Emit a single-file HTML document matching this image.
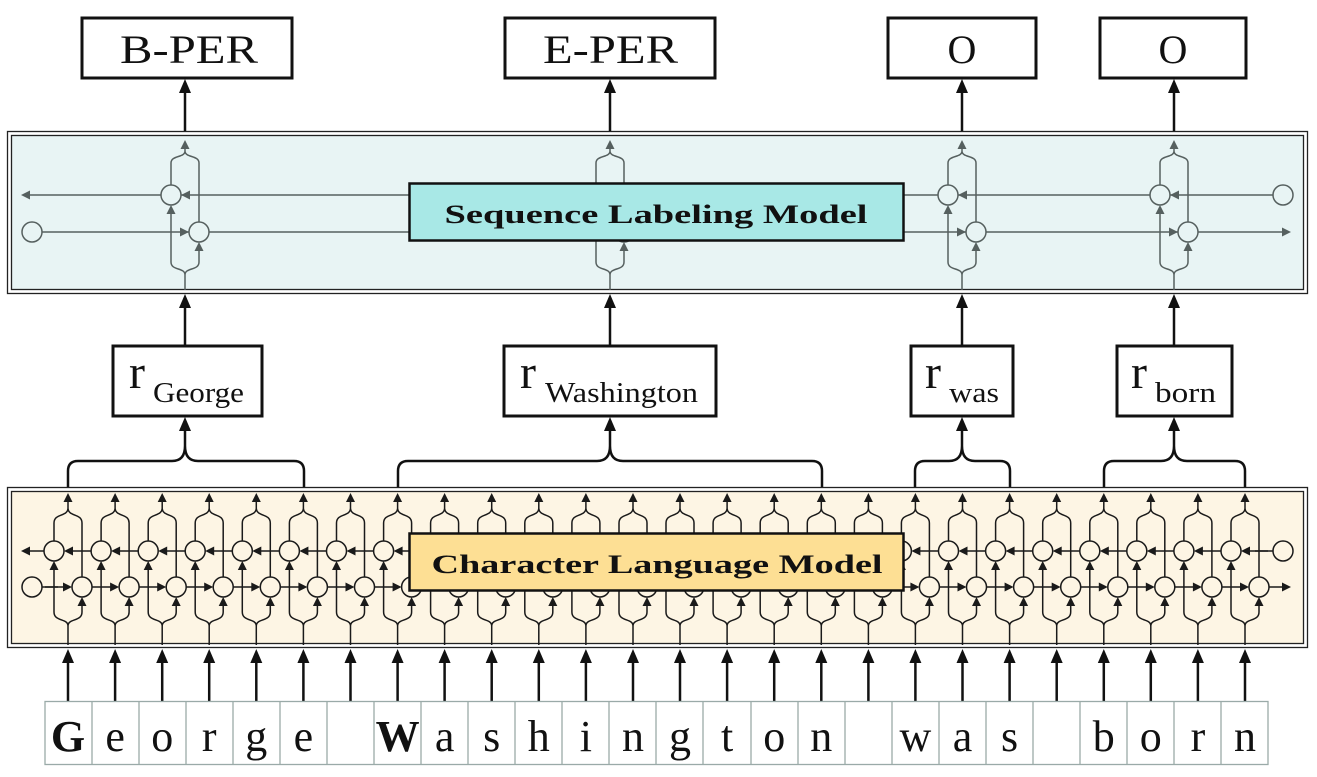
<!DOCTYPE html>
<html><head><meta charset="utf-8"><style>
html,body{margin:0;padding:0;background:#fff;}
svg{display:block;}
text{font-family:"Liberation Serif",serif;}
</style></head><body>
<svg width="1317" height="777" viewBox="0 0 1317 777" xmlns="http://www.w3.org/2000/svg">
<defs>
<g id="cc" fill="none" stroke="#1a1a1a" stroke-width="1.5">
  <path d="M0,645 V626 C0,618 -14,622 -14,612 V565 M0,626 C0,618 14,622 14,612 V601"/>
  <path d="M-14,541 V523 C-14,513 0,517 0,508 V500 M14,577 V523 C14,513 0,517 0,508"/>
  <path d="M-23,587 H-2 M23,551 H2"/>
  <circle cx="-14" cy="551" r="10" fill="#fdf5e4"/>
  <circle cx="14" cy="587" r="10" fill="#fdf5e4"/>
  <g fill="#1a1a1a" stroke="none">
    <polygon points="-14,561 -18.5,570 -9.5,570"/>
    <polygon points="14,597 9.5,606 18.5,606"/>
    <polygon points="0,493 -4.5,502 4.5,502"/>
    <polygon points="4,587 -5,582.5 -5,591.5"/>
    <polygon points="-4,551 5,546.5 5,555.5"/>
  </g>
</g>
<g id="sc" fill="none" stroke="#56605f" stroke-width="1.5">
  <path d="M0,290 V275 C0,267 -14,271 -14,262 V213 M0,275 C0,267 14,271 14,262 V250"/>
  <path d="M-14,185 V163 C-14,155 0,158 0,151 V148 M14,222 V163 C14,155 0,158 0,151"/>
  <circle cx="-14" cy="195" r="10" fill="#e8f4f4"/>
  <circle cx="14" cy="232" r="10" fill="#e8f4f4"/>
  <g fill="#56605f" stroke="none">
    <polygon points="-14,205 -18.5,214 -9.5,214"/>
    <polygon points="14,242 9.5,251 18.5,251"/>
    <polygon points="0,140 -4.5,149 4.5,149"/>
    <polygon points="4,232 -5,227.5 -5,236.5"/>
    <polygon points="-4,195 5,190.5 5,199.5"/>
  </g>
</g>
<g id="up"><line x1="0" y1="0" x2="0" y2="-40" stroke="#111" stroke-width="2.5"/><polygon points="0,-52 -6,-38 6,-38" fill="#111"/></g>
</defs>

<rect x="7.5" y="131.5" width="1300" height="162" fill="none" stroke="#222" stroke-width="1.3"/>
<rect x="11.5" y="135.5" width="1292" height="154" fill="#e8f4f4" stroke="#222" stroke-width="1.3"/>
<g stroke="#56605f" stroke-width="1.5" fill="none">
  <line x1="1273" y1="195" x2="28" y2="195"/>
  <line x1="42" y1="232" x2="1284" y2="232"/>
  <circle cx="32" cy="232" r="10" fill="#e8f4f4"/>
  <circle cx="1283" cy="195" r="10" fill="#e8f4f4"/>
</g>
<polygon points="21,195 30,190.5 30,199.5" fill="#56605f"/>
<polygon points="1291,232 1282,227.5 1282,236.5" fill="#56605f"/>
<use href="#sc" x="185"/><use href="#sc" x="610"/><use href="#sc" x="962"/><use href="#sc" x="1174"/>
<rect x="409.5" y="183.5" width="494" height="57" fill="#a8e8e6" stroke="#111" stroke-width="2.5"/>
<text x="656" y="223" font-size="26" font-weight="bold" text-anchor="middle" textLength="423" lengthAdjust="spacingAndGlyphs" fill="#111">Sequence Labeling Model</text>

<g fill="#fff" stroke="#111" stroke-width="3">
  <rect x="82" y="18" width="210" height="60"/>
  <rect x="505" y="18" width="210" height="60"/>
  <rect x="888" y="18" width="148" height="60"/>
  <rect x="1100" y="18" width="146" height="60"/>
</g>
<g font-size="40" fill="#111">
  <text x="120" y="63" textLength="138" lengthAdjust="spacingAndGlyphs">B-PER</text>
  <text x="543" y="63" textLength="135" lengthAdjust="spacingAndGlyphs">E-PER</text>
  <text x="962" y="63" text-anchor="middle">O</text>
  <text x="1173" y="63" text-anchor="middle">O</text>
</g>
<use href="#up" x="185" y="131"/><use href="#up" x="610" y="131"/><use href="#up" x="962" y="131"/><use href="#up" x="1174" y="131"/>
<use href="#up" x="185" y="346"/><use href="#up" x="610" y="346"/><use href="#up" x="962" y="346"/><use href="#up" x="1174" y="346"/>

<g fill="#fff" stroke="#111" stroke-width="3">
  <rect x="113" y="346" width="149" height="70"/>
  <rect x="504" y="346" width="212" height="70"/>
  <rect x="911" y="346" width="102" height="70"/>
  <rect x="1117" y="346" width="115" height="70"/>
</g>
<g fill="#111" font-size="48">
  <text x="129" y="388">r</text><text x="153" y="402" font-size="28" textLength="91" lengthAdjust="spacingAndGlyphs">George</text>
  <text x="520" y="388">r</text><text x="545" y="402" font-size="28" textLength="153" lengthAdjust="spacingAndGlyphs">Washington</text>
  <text x="925" y="388">r</text><text x="949" y="402" font-size="28" textLength="50" lengthAdjust="spacingAndGlyphs">was</text>
  <text x="1131" y="388">r</text><text x="1155" y="402" font-size="28" textLength="61" lengthAdjust="spacingAndGlyphs">born</text>
</g>

<g fill="none" stroke="#111" stroke-width="2.5">
  <path d="M68,487 V471 Q68,461 78,461 H172 Q185,461 185,446 Q185,461 198,461 H294 Q304,461 304,471 V487"/>
  <path d="M398,487 V471 Q398,461 408,461 H597 Q610,461 610,446 Q610,461 623,461 H812 Q822,461 822,471 V487"/>
  <path d="M915,487 V471 Q915,461 925,461 H949 Q962,461 962,446 Q962,461 975,461 H1000 Q1010,461 1010,471 V487"/>
  <path d="M1104,487 V471 Q1104,461 1114,461 H1161 Q1174,461 1174,446 Q1174,461 1187,461 H1235 Q1245,461 1245,471 V487"/>
  <line x1="185" y1="446" x2="185" y2="428"/><line x1="610" y1="446" x2="610" y2="428"/>
  <line x1="962" y1="446" x2="962" y2="428"/><line x1="1174" y1="446" x2="1174" y2="428"/>
</g>
<g fill="#111">
  <polygon points="185,417 179,431 191,431"/><polygon points="610,417 604,431 616,431"/>
  <polygon points="962,417 956,431 968,431"/><polygon points="1174,417 1168,431 1180,431"/>
</g>

<rect x="7.5" y="487.5" width="1300" height="160" fill="none" stroke="#222" stroke-width="1.3"/>
<rect x="11.5" y="491.5" width="1292" height="152" fill="#fdf5e4" stroke="#222" stroke-width="1.3"/>
<g stroke="#1a1a1a" stroke-width="1.5" fill="#fdf5e4">
  <line x1="42" y1="587" x2="58" y2="587"/>
  <line x1="44" y1="551" x2="28" y2="551"/>
  <line x1="1273" y1="551" x2="1255" y2="551"/>
  <line x1="1269" y1="587" x2="1284" y2="587"/>
  <circle cx="32" cy="587" r="10"/>
  <circle cx="1283" cy="551" r="10"/>
</g>
<polygon points="21,551 30,546.5 30,555.5" fill="#1a1a1a"/>
<polygon points="1291,587 1282,582.5 1282,591.5" fill="#1a1a1a"/>
<use href="#cc" x="68"/><use href="#cc" x="115.1"/><use href="#cc" x="162.2"/><use href="#cc" x="209.2"/><use href="#cc" x="256.3"/><use href="#cc" x="303.4"/><use href="#cc" x="350.5"/><use href="#cc" x="397.6"/><use href="#cc" x="444.6"/><use href="#cc" x="491.7"/><use href="#cc" x="538.8"/><use href="#cc" x="585.9"/><use href="#cc" x="633"/><use href="#cc" x="680"/><use href="#cc" x="727.1"/><use href="#cc" x="774.2"/><use href="#cc" x="821.3"/><use href="#cc" x="868.4"/><use href="#cc" x="915.4"/><use href="#cc" x="962.5"/><use href="#cc" x="1009.6"/><use href="#cc" x="1056.7"/><use href="#cc" x="1103.8"/><use href="#cc" x="1150.8"/><use href="#cc" x="1197.9"/><use href="#cc" x="1245"/>
<rect x="409.5" y="533.5" width="494" height="57" fill="#fddf94" stroke="#111" stroke-width="2.5"/>
<text x="657" y="573" font-size="26" font-weight="bold" text-anchor="middle" textLength="451" lengthAdjust="spacingAndGlyphs" fill="#111">Character Language Model</text>

<g>
<use href="#up" x="68" y="701"/><use href="#up" x="115.1" y="701"/><use href="#up" x="162.2" y="701"/><use href="#up" x="209.2" y="701"/><use href="#up" x="256.3" y="701"/><use href="#up" x="303.4" y="701"/><use href="#up" x="350.5" y="701"/><use href="#up" x="397.6" y="701"/><use href="#up" x="444.6" y="701"/><use href="#up" x="491.7" y="701"/><use href="#up" x="538.8" y="701"/><use href="#up" x="585.9" y="701"/><use href="#up" x="633" y="701"/><use href="#up" x="680" y="701"/><use href="#up" x="727.1" y="701"/><use href="#up" x="774.2" y="701"/><use href="#up" x="821.3" y="701"/><use href="#up" x="868.4" y="701"/><use href="#up" x="915.4" y="701"/><use href="#up" x="962.5" y="701"/><use href="#up" x="1009.6" y="701"/><use href="#up" x="1056.7" y="701"/><use href="#up" x="1103.8" y="701"/><use href="#up" x="1150.8" y="701"/><use href="#up" x="1197.9" y="701"/><use href="#up" x="1245" y="701"/>
</g>

<rect x="45" y="701.5" width="1223" height="63" fill="#fff" stroke="#9aaaa8" stroke-width="1.3"/>
<g stroke="#9aaaa8" stroke-width="1.3">
<line x1="92" y1="701" x2="92" y2="765"/><line x1="139" y1="701" x2="139" y2="765"/><line x1="186" y1="701" x2="186" y2="765"/><line x1="233" y1="701" x2="233" y2="765"/><line x1="280" y1="701" x2="280" y2="765"/><line x1="327" y1="701" x2="327" y2="765"/><line x1="374" y1="701" x2="374" y2="765"/><line x1="421" y1="701" x2="421" y2="765"/><line x1="468" y1="701" x2="468" y2="765"/><line x1="515" y1="701" x2="515" y2="765"/><line x1="562" y1="701" x2="562" y2="765"/><line x1="609" y1="701" x2="609" y2="765"/><line x1="656" y1="701" x2="656" y2="765"/><line x1="703" y1="701" x2="703" y2="765"/><line x1="751" y1="701" x2="751" y2="765"/><line x1="798" y1="701" x2="798" y2="765"/><line x1="845" y1="701" x2="845" y2="765"/><line x1="892" y1="701" x2="892" y2="765"/><line x1="939" y1="701" x2="939" y2="765"/><line x1="986" y1="701" x2="986" y2="765"/><line x1="1033" y1="701" x2="1033" y2="765"/><line x1="1080" y1="701" x2="1080" y2="765"/><line x1="1127" y1="701" x2="1127" y2="765"/><line x1="1174" y1="701" x2="1174" y2="765"/><line x1="1221" y1="701" x2="1221" y2="765"/>
</g>
<g font-size="44" text-anchor="middle" fill="#111">
<text x="68" y="751" font-weight="bold">G</text><text x="115.1" y="751">e</text><text x="162.2" y="751">o</text><text x="209.2" y="751">r</text><text x="256.3" y="751">g</text><text x="303.4" y="751">e</text>
<text x="397.6" y="751" font-weight="bold">W</text><text x="444.6" y="751">a</text><text x="491.7" y="751">s</text><text x="538.8" y="751">h</text><text x="585.9" y="751">i</text><text x="633" y="751">n</text><text x="680" y="751">g</text><text x="727.1" y="751">t</text><text x="774.2" y="751">o</text><text x="821.3" y="751">n</text>
<text x="915.4" y="751">w</text><text x="962.5" y="751">a</text><text x="1009.6" y="751">s</text>
<text x="1103.8" y="751">b</text><text x="1150.8" y="751">o</text><text x="1197.9" y="751">r</text><text x="1245" y="751">n</text>
</g>
</svg>
</body></html>
